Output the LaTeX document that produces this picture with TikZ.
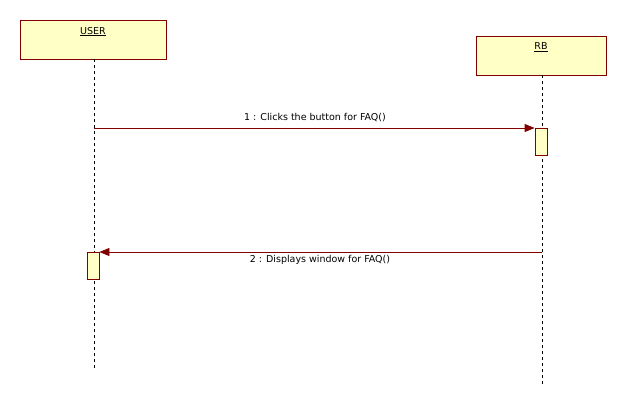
\documentclass[tikz,border=0pt]{standalone}
\usepackage{fontspec}
\setmainfont{DejaVu Sans}
\usepackage{xcolor}
\usepackage{tikz}
\usetikzlibrary{arrows.meta,positioning}
\definecolor{umlfill}{HTML}{FFFFC6}
\definecolor{umlline}{HTML}{800000}
\tikzset{
  actor/.style={draw=umlline,fill=umlfill,line width=0.8pt,minimum height=39pt,inner sep=0pt},
  actname/.style={font=\fontsize{9.5}{11}\selectfont,anchor=north},
  life/.style={line width=0.8pt,dash pattern=on 3pt off 3pt},
  actv/.style={draw=umlline,fill=umlfill,line width=0.8pt,minimum width=12pt,minimum height=27pt,inner sep=0pt},
  msg/.style={-{Triangle[length=10pt,width=8pt]},line width=0.8pt,color=umlline},
  mlbl/.style={font=\fontsize{9.5}{11}\selectfont},
}
\begin{document}
\begin{tikzpicture}[x=1pt,y=-1pt]
\useasboundingbox (0,0) rectangle (627,405);
% participants
\node[actor,minimum width=146pt] (user) at (93,39.5) {};
\node[actname] (usern) at (93,23.5) {\underline{USER}};
\node[actor,minimum width=130pt] (rb) at (541,55.5) {};
\node[actname] (rbn) at (541,39.5) {\underline{RB}};
% lifelines
\coordinate (userend) at (94,369);
\coordinate (rbend) at (542,384);
\draw[life] (user.south -| userend) -- (userend);
\draw[life] (rb.south -| rbend) -- (rbend);
% activations
\node[actv] (rbact) at (541,141.5) {};
\node[actv] (useract) at (93,265.5) {};
% messages
\coordinate (m1) at (94,128);
\draw[msg] (m1) -- (m1 -| rbact.west);
\node[mlbl] (m1l) at (315,118) {1 : Clicks the button for FAQ()};
\coordinate (m2) at (542,252);
\draw[msg] (m2) -- (m2 -| useract.east);
\node[mlbl] (m2l) at (320,259.5) {2 : Displays window for FAQ()};
\end{tikzpicture}
\end{document}
